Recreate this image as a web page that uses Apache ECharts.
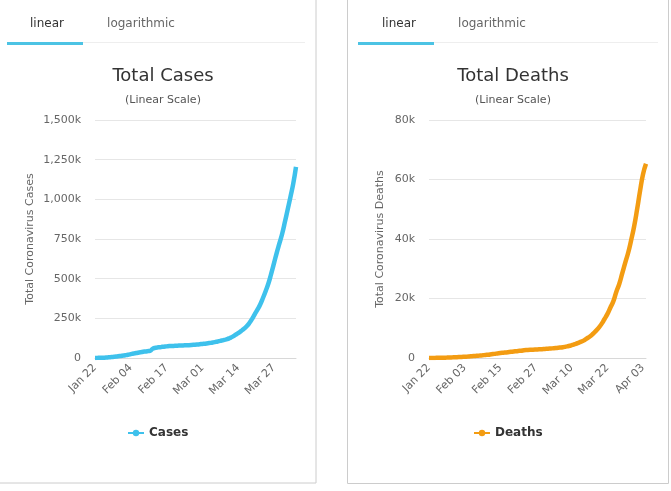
<!DOCTYPE html>
<html>
<head>
<meta charset="utf-8">
<script src="https://cdn.jsdelivr.net/npm/echarts@6/dist/echarts.min.js"></script>
<style>
html,body{margin:0;padding:0;background:#fff;}
#c{width:671px;height:491px;}
</style>
</head>
<body>
<div id="c"></div>
<script>
// Dates Jan 22 .. Apr 04
const dates = ["Jan 22","Jan 23","Jan 24","Jan 25","Jan 26","Jan 27","Jan 28","Jan 29","Jan 30","Jan 31",
"Feb 01","Feb 02","Feb 03","Feb 04","Feb 05","Feb 06","Feb 07","Feb 08","Feb 09","Feb 10","Feb 11","Feb 12","Feb 13","Feb 14","Feb 15","Feb 16","Feb 17","Feb 18","Feb 19","Feb 20","Feb 21","Feb 22","Feb 23","Feb 24","Feb 25","Feb 26","Feb 27","Feb 28","Feb 29",
"Mar 01","Mar 02","Mar 03","Mar 04","Mar 05","Mar 06","Mar 07","Mar 08","Mar 09","Mar 10","Mar 11","Mar 12","Mar 13","Mar 14","Mar 15","Mar 16","Mar 17","Mar 18","Mar 19","Mar 20","Mar 21","Mar 22","Mar 23","Mar 24","Mar 25","Mar 26","Mar 27","Mar 28","Mar 29","Mar 30","Mar 31",
"Apr 01","Apr 02","Apr 03","Apr 04"];

const cases = [580,845,1317,2015,2800,4581,6058,7813,9823,11950,
14553,17391,20630,24545,28266,31439,34876,37552,40553,43099,45134,59287,64438,67100,69197,71329,73332,75184,75700,76677,77673,78651,79205,80087,80828,81820,83112,84615,86604,
88585,90443,93016,95314,98425,102050,106099,109991,114381,118948,126214,134576,145483,156653,169593,182490,198238,218822,244933,275597,305036,337489,378287,422574,471035,531865,596366,663127,723390,784716,859798,
936851,1016128,1098762,1205000];

const deaths = [17,25,41,56,80,106,132,170,213,259,
304,362,426,492,565,638,724,813,910,1018,1115,1261,1383,1526,1669,1775,1873,2009,2126,2247,2360,2460,2618,2699,2763,2800,2858,2923,2977,
3050,3117,3202,3285,3387,3494,3599,3827,4025,4296,4628,4981,5428,5833,6520,7162,7979,8951,10030,11386,13031,14753,16890,19023,22181,24875,28427,31981,35369,39571,44217,
49924,56182,61800,65300];

const casesTicks = [0, 250000, 500000, 750000, 1000000, 1250000, 1500000];
const deathsTicks = [0, 20000, 40000, 60000, 80000];

const FONT = "DejaVu Sans";
const chart = echarts.init(document.getElementById('c'), null, {renderer:'canvas'});

function kfmt(v){
  if (v === 0) return '0';
  const k = v/1000;
  return k.toLocaleString('en-US') + 'k';
}

function yAxis(idx, max, interval, name){
  return {
    type:'value', gridIndex: idx, min:0, max:max, interval:interval,
    name:name, nameLocation:'middle', nameRotate:90, nameGap: idx===0 ? 59 : 43,
    nameTextStyle:{color:'#666', fontSize:11, fontFamily:FONT},
    axisLine:{show:false}, axisTick:{show:false},
    axisLabel:{color:'#666', fontSize:11, fontFamily:FONT, formatter:kfmt, margin:14},
    splitLine:{lineStyle:{color:'#e6e6e6', width:1}}
  };
}
function xAxis(idx, interval){
  return {
    type:'category', gridIndex: idx, data: dates, boundaryGap:false,
    axisLine:{lineStyle:{color:'#d8d8d8'}}, axisTick:{show:false},
    axisLabel:{color:'#666', fontSize:11, fontFamily:FONT, rotate:45, interval: interval-1, margin:8}
  };
}

const option = {
  animation:false,
  textStyle:{fontFamily:FONT},
  title:[
    {text:'Total Cases', subtext:'(Linear Scale)', left:158, top:62, textAlign:'center', itemGap:10,
     textStyle:{fontSize:18, fontWeight:'normal', color:'#333', fontFamily:FONT},
     subtextStyle:{fontSize:11, color:'#555', fontFamily:FONT}},
    {text:'Total Deaths', subtext:'(Linear Scale)', left:508, top:62, textAlign:'center', itemGap:10,
     textStyle:{fontSize:18, fontWeight:'normal', color:'#333', fontFamily:FONT},
     subtextStyle:{fontSize:11, color:'#555', fontFamily:FONT}}
  ],
  legend:[
    {data:['Cases'], left:122, top:422, itemWidth:16, itemHeight:8, itemGap:5,
     textStyle:{fontSize:12, fontWeight:'bold', color:'#333', fontFamily:FONT}},
    {data:['Deaths'], left:468, top:422, itemWidth:16, itemHeight:8, itemGap:5,
     textStyle:{fontSize:12, fontWeight:'bold', color:'#333', fontFamily:FONT}}
  ],
  grid:[
    {left:95, top:120, width:201, height:238},
    {left:429, top:120, width:217, height:238}
  ],
  xAxis:[xAxis(0,13), xAxis(1,12)],
  yAxis:[yAxis(0, casesTicks[casesTicks.length-1], casesTicks[1], 'Total Coronavirus Cases'),
         yAxis(1, deathsTicks[deathsTicks.length-1], deathsTicks[1], 'Total Coronavirus Deaths')],
  series:[
    {name:'Cases', type:'line', xAxisIndex:0, yAxisIndex:0, data:cases, smooth:true, showSymbol:false,
     symbol:'circle', symbolSize:8,
     color:'#3ec1ec', lineStyle:{width:4.5, color:'#3ec1ec'}},
    {name:'Deaths', type:'line', xAxisIndex:1, yAxisIndex:1, data:deaths, smooth:true, showSymbol:false,
     symbol:'circle', symbolSize:8,
     color:'#f39c12', lineStyle:{width:4.5, color:'#f39c12'}}
  ],
  graphic:[
    // panel borders
    {type:'polyline', shape:{points:[[316,-2],[316,483],[-2,483]]}, style:{stroke:'#cccccc', lineWidth:1, fill:null}},
    {type:'polyline', shape:{points:[[347.5,-2],[347.5,483.5],[668.5,483.5],[668.5,-2]]}, style:{stroke:'#cccccc', lineWidth:1, fill:null}},
    // tab lines
    {type:'rect', shape:{x:83, y:42, width:222, height:1}, style:{fill:'#eeeeee'}},
    {type:'rect', shape:{x:7, y:42, width:76, height:3}, style:{fill:'#4cc3e4'}},
    {type:'rect', shape:{x:434, y:42, width:224, height:1}, style:{fill:'#eeeeee'}},
    {type:'rect', shape:{x:358, y:42, width:76, height:3}, style:{fill:'#4cc3e4'}},
    // tab texts
    {type:'text', x:47, y:24, style:{text:'linear', fill:'#333', font:'12px "DejaVu Sans"', textAlign:'center', textVerticalAlign:'middle'}},
    {type:'text', x:141, y:24, style:{text:'logarithmic', fill:'#666', font:'12px "DejaVu Sans"', textAlign:'center', textVerticalAlign:'middle'}},
    {type:'text', x:399, y:24, style:{text:'linear', fill:'#333', font:'12px "DejaVu Sans"', textAlign:'center', textVerticalAlign:'middle'}},
    {type:'text', x:492, y:24, style:{text:'logarithmic', fill:'#666', font:'12px "DejaVu Sans"', textAlign:'center', textVerticalAlign:'middle'}}
  ]
};
chart.setOption(option);
</script>
</body>
</html>
